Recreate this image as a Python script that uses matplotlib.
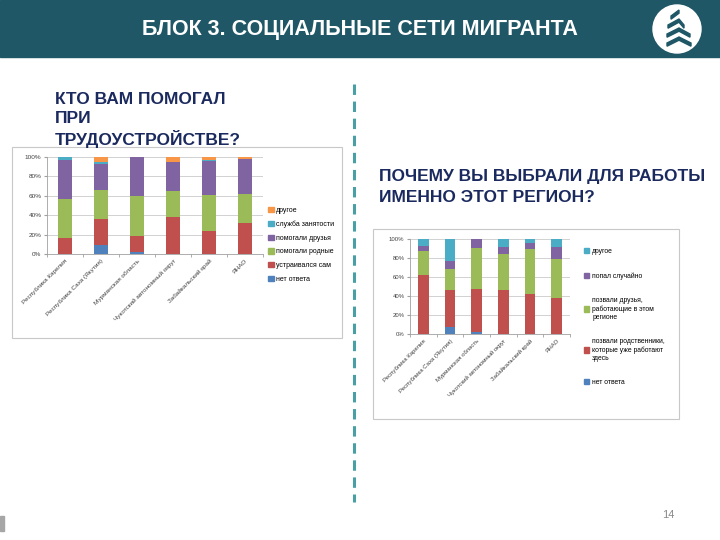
import numpy as np
import matplotlib
matplotlib.use("Agg")
import matplotlib.pyplot as plt
from matplotlib.patches import Rectangle, Circle, Polygon, Patch

plt.rcParams['font.family'] = ['Liberation Sans', 'DejaVu Sans']
plt.rcParams['lines.scale_dashes'] = False

# ---- data ----
regions = ['Республика Карелия', 'Республика Саха (Якутия)', 'Мурманская область',
           'Чукотский автономный округ', 'Забайкальский край', 'ЯНАО']

# chart 1: who helped with employment (%, stacked bottom -> top)
help_labels = ['нет ответа', 'устраивался сам', 'помогали родные',
               'помогали друзья', 'служба занятости', 'другое']
help_none = [0, 9, 2, 0, 0, 0]
help_self = [17, 27, 17, 38, 24, 32]
help_relatives = [40, 30, 41, 27, 37, 30]
help_friends = [40, 27, 40, 30, 35, 36]
help_agency = [3, 2, 0, 0, 1, 0]
help_other = [0, 5, 0, 5, 3, 2]

# chart 2: why this region (%, stacked bottom -> top)
why_labels = ['нет ответа', 'позвали родственники,\nкоторые уже работают\nздесь',
              'позвали друзья,\nработающие в этом\nрегионе', 'попал случайно', 'другое']
why_none = [0, 7, 2, 0, 0, 0]
why_relatives = [62, 39, 45, 46, 42, 38]
why_friends = [25, 22, 43, 38, 47, 41]
why_random = [6, 9, 10, 8, 7, 13]
why_other = [7, 23, 0, 8, 4, 8]

C_BLUE, C_RED, C_GREEN = '#4f81bd', '#c0504d', '#9bbb59'
C_PURPLE, C_TEAL, C_ORANGE = '#8064a2', '#4bacc6', '#f79646'

W, H = 720, 540
fig = plt.figure(figsize=(W / 100, H / 100), dpi=100)


def px_axes(x0, y0, x1, y1, **kw):
    return fig.add_axes([x0 / W, 1 - y1 / H, (x1 - x0) / W, (y1 - y0) / H], **kw)


# background layer (slide decorations)
bg = px_axes(0, 0, W, H)
bg.set_xlim(0, W)
bg.set_ylim(H, 0)
bg.axis('off')
bg.add_patch(Rectangle((0, 0), W, 57, color='#1f5766'))
bg.text(360, 29, 'БЛОК 3. СОЦИАЛЬНЫЕ СЕТИ МИГРАНТА', color='white', fontsize=15.5,
        fontweight='bold', ha='center', va='center')
# logo
bg.add_patch(Circle((677, 29), 24, color='white'))
for yl, xl, right in [(16, 671, 0), (25, 668, 5), (34, 667, 11), (43, 667, 12)]:
    t = 3.2
    bg.add_patch(Polygon([[xl, yl], [679, yl - 6], [679, yl - 6 + t], [xl, yl + t]],
                         color='#1f5766'))
    if right:
        bg.add_patch(Polygon([[679, yl - 6], [679 + right, yl], [679 + right, yl + t],
                              [679, yl - 6 + t]], color='#1f5766'))

sub_c = '#1b2a5e'
bg.text(55, 120, 'КТО ВАМ ПОМОГАЛ\nПРИ\nТРУДОУСТРОЙСТВЕ?', color=sub_c, fontsize=12.5,
        fontweight='bold', ha='left', va='center', linespacing=1.3)
bg.text(379, 187, 'ПОЧЕМУ ВЫ ВЫБРАЛИ ДЛЯ РАБОТЫ\nИМЕННО ЭТОТ РЕГИОН?', color=sub_c,
        fontsize=12.5, fontweight='bold', ha='left', va='center', linespacing=1.5)
bg.plot([354, 354], [84, 502], color='#4a9fa5', lw=2.2, dashes=(7.5, 4.8))
bg.text(668, 515, '14', color='#888888', fontsize=8, ha='center', va='center')
bg.add_patch(Rectangle((0, 516), 4, 15, color='#a6a6a6'))

# chart frames
bg.add_patch(Rectangle((12, 147), 330, 191, facecolor='white', edgecolor='#c8c8c8', lw=0.8))
bg.add_patch(Rectangle((373, 229), 306, 190, facecolor='white', edgecolor='#c8c8c8', lw=0.8))


def stacked(ax, series, colors, fs):
    x = np.arange(len(regions))
    bottom = np.zeros(len(regions))
    for vals, c in zip(series, colors):
        ax.bar(x, vals, 0.4, bottom=bottom, color=c, zorder=3)
        bottom += np.array(vals)
    ax.set_xlim(-0.5, len(regions) - 0.5)
    ax.set_ylim(0, 100)
    ax.set_yticks(range(0, 101, 20))
    ax.set_yticklabels([f'{v}%' for v in range(0, 101, 20)], fontsize=fs, color='#404040')
    ax.yaxis.grid(True, color='#bfbfbf', lw=0.5, zorder=0)
    ax.set_xticks(x)
    ax.set_xticklabels(regions, rotation=45, ha='right', rotation_mode='anchor',
                       fontsize=fs, color='#404040')
    ax.set_xticks(np.arange(-0.5, len(regions)), minor=True)
    ax.tick_params(axis='x', which='major', length=0, pad=3)
    ax.tick_params(axis='x', which='minor', length=2, color='#a0a0a0')
    ax.tick_params(axis='y', length=2, color='#a0a0a0', pad=2)
    for s in ['top', 'right']:
        ax.spines[s].set_visible(False)
    for s in ['left', 'bottom']:
        ax.spines[s].set_color('#a0a0a0')
        ax.spines[s].set_linewidth(0.6)


ax1 = px_axes(47, 157, 263, 254)
stacked(ax1, [help_none, help_self, help_relatives, help_friends, help_agency, help_other],
        [C_BLUE, C_RED, C_GREEN, C_PURPLE, C_TEAL, C_ORANGE], 4.6)
h1 = [Patch(color=c) for c in [C_BLUE, C_RED, C_GREEN, C_PURPLE, C_TEAL, C_ORANGE]]
fig.legend(h1[::-1], help_labels[::-1], loc='upper left', bbox_to_anchor=(268 / W, 1 - 207 / H),
           frameon=False, fontsize=5, handlelength=0.8, handleheight=0.8,
           handletextpad=0.4, labelspacing=0.95, borderpad=0, borderaxespad=0)

ax2 = px_axes(410, 239, 570, 334)
stacked(ax2, [why_none, why_relatives, why_friends, why_random, why_other],
        [C_BLUE, C_RED, C_GREEN, C_PURPLE, C_TEAL], 4.3)
h2 = [Patch(color=c) for c in [C_BLUE, C_RED, C_GREEN, C_PURPLE, C_TEAL]]
fig.legend(h2[::-1], why_labels[::-1], loc='upper left', bbox_to_anchor=(584 / W, 1 - 248 / H),
           frameon=False, fontsize=4.9, handlelength=0.8, handleheight=0.8,
           handletextpad=0.4, labelspacing=2.55, borderpad=0, borderaxespad=0)

fig.savefig('out.png', dpi=100)
